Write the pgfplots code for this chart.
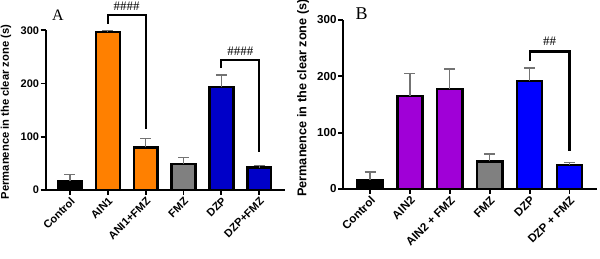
\documentclass[border=0pt]{standalone}
\usepackage{pgfplots}
\pgfplotsset{compat=1.18}
\usepackage{fontspec}
\setmainfont{Liberation Sans}
\newfontfamily\serif{Liberation Serif}
\definecolor{orA}{RGB}{255,128,0}
\definecolor{grA}{RGB}{128,128,128}
\definecolor{blA}{RGB}{0,0,200}
\definecolor{puB}{RGB}{160,0,215}
\definecolor{blB}{RGB}{0,0,255}
\pgfplotsset{
  mybar/.style={ybar, bar width=0.63, bar shift=0pt, draw=black, line width=2.4pt,
    error bars/y dir=plus, error bars/y explicit,
    error bars/error bar style={line width=1.3pt, draw=black!55},
    error bars/error mark options={rotate=90, mark size=5.5pt, line width=1.3pt, draw=black!55}},
  brk/.style={black, line width=2.2pt, no marks},
  myaxis/.style={scale only axis, ymin=0, ymax=300, axis lines=left,
    axis line style={line width=1.8pt, -}, ytick={0,100,200,300}, xtick={0,...,5},
    tick align=outside, major tick length=5pt, tick style={line width=1.8pt, black},
    /pgf/number format/assume math mode=true, clip=false,
    x tick label style={rotate=45, anchor=north east, inner sep=1pt},
    y tick label style={inner sep=1.5pt}}
}
\begin{document}
\begin{tikzpicture}
\path[use as bounding box] (0,0) rectangle (600pt,259pt);
% Panel A
\begin{axis}[myaxis, at={(45.7pt,69pt)}, anchor=south west,
  width=239.3pt, height=159.7pt, xmin=-0.64, xmax=5.68,
  xticklabels={Control,AIN1,ANI1+FMZ,FMZ,DZP,DZP+FMZ},
  ticklabel style={font=\fontsize{11}{11}\selectfont\bfseries}]
\addplot[mybar, fill=black] coordinates {(0,16) +- (0,13)};
\addplot[mybar, fill=orA] coordinates {(1,297) +- (0,2)};
\addplot[mybar, fill=orA] coordinates {(2,80) +- (0,17)};
\addplot[mybar, fill=grA] coordinates {(3,49) +- (0,12)};
\addplot[mybar, fill=blA] coordinates {(4,193) +- (0,23)};
\addplot[mybar, fill=blA] coordinates {(5,42) +- (0,4)};
\addplot[brk] coordinates {(1,312) (1,328) (2,328) (2,114)};
\addplot[brk] coordinates {(4,229) (4,244) (5,244) (5,72)};
\node[font=\serif\fontsize{13}{13}\selectfont] at (axis cs:1.5,346) {\#\#\#\#};
\node[font=\serif\fontsize{13}{13}\selectfont] at (axis cs:4.5,261) {\#\#\#\#};
\end{axis}
% Panel B
\begin{axis}[myaxis, at={(343.3pt,70pt)}, anchor=south west,
  width=253.4pt, height=169pt, xmin=-0.67, xmax=5.68,
  xticklabels={Control,AIN2,AIN2 + FMZ,FMZ,DZP,DZP + FMZ},
  ticklabel style={font=\fontsize{11.6}{11.6}\selectfont\bfseries}]
\addplot[mybar, fill=black] coordinates {(0,16) +- (0,14)};
\addplot[mybar, fill=puB] coordinates {(1,165) +- (0,40)};
\addplot[mybar, fill=puB] coordinates {(2,177) +- (0,36)};
\addplot[mybar, fill=grA] coordinates {(3,49) +- (0,13)};
\addplot[mybar, fill=blB] coordinates {(4,192) +- (0,23)};
\addplot[mybar, fill=blB] coordinates {(5,43) +- (0,4)};
\addplot[brk] coordinates {(4,227) (4,244) (5,244) (5,67)};
\node[font=\serif\fontsize{13}{13}\selectfont] at (axis cs:4.5,262) {\#\#};
\end{axis}
\node[rotate=90, font=\fontsize{11.2}{11.2}\selectfont\bfseries, inner sep=0pt] at (6pt,147pt) {Permanence in the clear zone (s)};
\node[rotate=90, font=\fontsize{12.7}{12.7}\selectfont\bfseries, inner sep=0pt] at (303pt,161pt) {Permanence in the clear zone (s)};
\node[font=\serif\fontsize{16}{16}\selectfont, inner sep=0pt] at (58pt,244pt) {A};
\node[font=\serif\fontsize{18}{18}\selectfont, inner sep=0pt] at (361.7pt,245.7pt) {B};
\end{tikzpicture}
\end{document}
